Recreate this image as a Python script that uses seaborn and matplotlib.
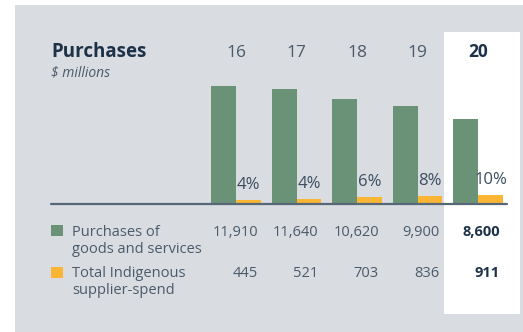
import matplotlib
matplotlib.use("Agg")
import matplotlib.pyplot as plt
from matplotlib.patches import Rectangle
from matplotlib.lines import Line2D
import pandas as pd
import seaborn as sns

# --- data -------------------------------------------------------------
years = ["16", "17", "18", "19", "20"]
purchases = [11910, 11640, 10620, 9900, 8600]
indigenous = [445, 521, 703, 836, 911]
share_labels = ["4%", "4%", "6%", "8%", "10%"]
series_names = [["Purchases of", "goods and services"], ["Total Indigenous", "supplier-spend"]]

# --- style ------------------------------------------------------------
sns.set_theme(style="white")
plt.rcParams["font.family"] = ["Open Sans", "DejaVu Sans"]

W, H = 523, 332
GREEN = "#6a9276"
ORANGE = "#fbb534"
PANEL = "#d9dce1"
DARK = "#1d3249"
TEXT = "#4b5a6a"
RULE = "#566878"

fig = plt.figure(figsize=(W / 100, H / 100), dpi=100)
fig.patch.set_facecolor("white")


def fx(px):
    return px / W


def fy(py):
    return 1 - py / H


# background panel and highlighted latest-year column
fig.add_artist(Rectangle((fx(15), 0), fx(W) - fx(15), fy(5), transform=fig.transFigure,
                         facecolor=PANEL, edgecolor="none", zorder=0))
fig.add_artist(Rectangle((fx(444), fy(314)), fx(520) - fx(444), fy(32) - fy(314),
                         transform=fig.transFigure, facecolor="white", edgecolor="none", zorder=0))

# --- bars -------------------------------------------------------------
df = pd.DataFrame({
    "year": years * 2,
    "value": purchases + indigenous,
    "series": [" ".join(series_names[0])] * len(years) + [" ".join(series_names[1])] * len(years),
})

ax = fig.add_axes([0, 0, 1, 1])
ax.set_facecolor("none")
sns.barplot(data=df, x="year", y="value", hue="series", palette=[GREEN, ORANGE],
            width=0.826, gap=0, saturation=1, legend=False, linewidth=0,
            edgecolor="none", ax=ax, zorder=2)

step = 60.5          # pixels between year groups
first_center = 236   # pixel x of first group center
base_px = 204        # pixel y of baseline
scale = 118 / purchases[0]  # pixels per $ million
ax.set_xlim(-first_center / step, (W - first_center) / step)
ax.set_ylim(-(H - base_px) / scale, base_px / scale)
ax.set_axis_off()

# share labels above the Indigenous spend bars
for i, (v, lab) in enumerate(zip(indigenous, share_labels)):
    ax.annotate(lab, xy=(i + 0.2065, v), xytext=(0, 5), textcoords="offset points",
                ha="center", va="bottom", fontsize=12, color="#3b4d60", zorder=3)

# baseline rule
fig.add_artist(Line2D([fx(51), fx(507)], [fy(base_px), fy(base_px)], transform=fig.transFigure,
                      color=RULE, lw=1.6, zorder=4))

# --- header -----------------------------------------------------------
fig.text(fx(51), fy(57), "Purchases", fontsize=13.5, fontweight="bold", color=DARK,
         ha="left", va="baseline")
fig.text(fx(51), fy(76), "$ millions", fontsize=10, fontstyle="italic", color=TEXT,
         ha="left", va="baseline")
for i, y in enumerate(years):
    last = i == len(years) - 1
    fig.text(fx(first_center + i * step), fy(57), y, fontsize=12.5,
             fontweight="bold" if last else "normal", color=DARK if last else TEXT,
             ha="center", va="baseline")

# --- table ------------------------------------------------------------
rows = [(purchases, GREEN, 225, 236), (indigenous, ORANGE, 267, 277)]
for (vals, col, sq_top, base), name in zip(rows, series_names):
    fig.add_artist(Rectangle((fx(51), fy(sq_top + 11)), fx(12), 11 / H, transform=fig.transFigure,
                             facecolor=col, edgecolor="none", zorder=3))
    for k, line in enumerate(name):
        fig.text(fx(72), fy(base + 17 * k), line, fontsize=10.5, color=TEXT,
                 ha="left", va="baseline")
    for i, v in enumerate(vals):
        last = i == len(vals) - 1
        fig.text(fx(258 + i * step), fy(base), f"{v:,}", fontsize=10.5,
                 fontweight="bold" if last else "normal", color=DARK if last else TEXT,
                 ha="right", va="baseline")

fig.savefig("out.png", dpi=100, facecolor=fig.get_facecolor())
